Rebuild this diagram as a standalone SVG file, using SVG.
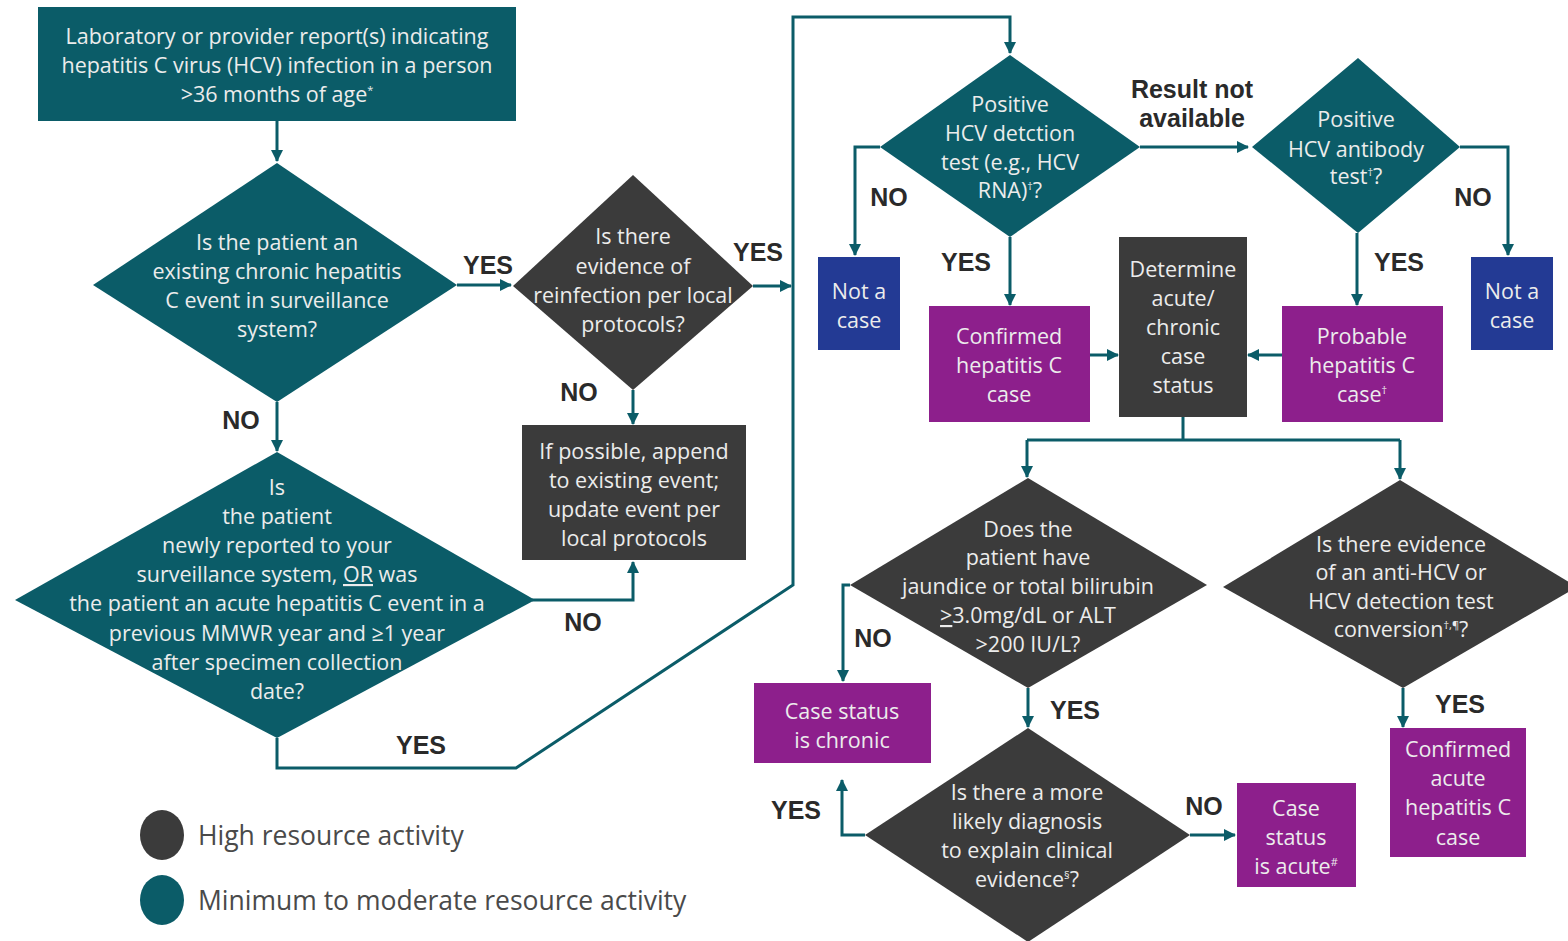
<svg xmlns="http://www.w3.org/2000/svg" width="1568" height="941" viewBox="0 0 1568 941">
<defs>
<style>
.teal{fill:#0b5c68}
.dark{fill:#3b3b3b}
.purple{fill:#8d1f8c}
.blue{fill:#233a94}
.t{font-family:"Open Sans","Liberation Sans",Arial,sans-serif;font-size:21.5px;fill:#ececec;text-anchor:middle}
.lbl{font-family:"Liberation Sans",Arial,sans-serif;font-size:25px;font-weight:bold;fill:#2a2a2a;text-anchor:middle}
.leg{font-family:"Open Sans","Liberation Sans",Arial,sans-serif;font-size:26.5px;fill:#4a4a4a}
.c{fill:none;stroke:#0b5c68;stroke-width:3}
.a{marker-end:url(#ah)}
.sup{font-size:11px}
</style>
<marker id="ah" markerWidth="12" markerHeight="12" refX="11" refY="6" orient="auto" markerUnits="userSpaceOnUse">
<path d="M0,0 L12,6 L0,12 z" fill="#0b5c68"/>
</marker>
</defs>
<rect width="1568" height="941" fill="#ffffff"/>

<g id="connectors">
<path class="c a" d="M277,121 V161"/>
<path class="c a" d="M457,285 H511"/>
<path class="c a" d="M277,402 V451"/>
<path class="c a" d="M753,286 H791"/>
<path class="c a" d="M633,390 V424"/>
<path class="c a" d="M532,600 H633 V562"/>
<path class="c a" d="M277,738 V768 H516 L793,585 V17 H1010 V53"/>
<path class="c a" d="M880,147 H855 V255"/>
<path class="c a" d="M1140,147 H1248"/>
<path class="c a" d="M1010,237 V305"/>
<path class="c a" d="M1460,147 H1508 V255"/>
<path class="c a" d="M1357,233 V305"/>
<path class="c a" d="M1090,355 H1118"/>
<path class="c a" d="M1282,355 H1248"/>
<path class="c" d="M1183,417 V440 M1027,440 H1400"/>
<path class="c a" d="M1027,440 V477"/>
<path class="c a" d="M1400,440 V479"/>
<path class="c a" d="M850,585 H843 V681"/>
<path class="c a" d="M1028,688 V727"/>
<path class="c a" d="M865,835 H842 V780"/>
<path class="c a" d="M1190,835 H1235"/>
<path class="c a" d="M1403,688 V727"/>
</g>

<g id="connector-labels">
<text class="lbl" x="488" y="274">YES</text>
<text class="lbl" x="241" y="429">NO</text>
<text class="lbl" x="758" y="261">YES</text>
<text class="lbl" x="579" y="401">NO</text>
<text class="lbl" x="583" y="631">NO</text>
<text class="lbl" x="421" y="754">YES</text>
<text class="lbl" x="1192" y="98">Result not</text>
<text class="lbl" x="1192" y="127">available</text>
<text class="lbl" x="889" y="206">NO</text>
<text class="lbl" x="966" y="271">YES</text>
<text class="lbl" x="1473" y="206">NO</text>
<text class="lbl" x="1399" y="271">YES</text>
<text class="lbl" x="873" y="647">NO</text>
<text class="lbl" x="1075" y="719">YES</text>
<text class="lbl" x="796" y="819">YES</text>
<text class="lbl" x="1204" y="815">NO</text>
<text class="lbl" x="1460" y="713">YES</text>
</g>

<g id="start">
<rect class="teal" x="38" y="7" width="478" height="114"/>
<text class="t" x="277" y="44">Laboratory or provider report(s) indicating</text>
<text class="t" x="277" y="73">hepatitis C virus (HCV) infection in a person</text>
<text class="t" x="277" y="102">&gt;36 months of age<tspan class="sup" dy="-8">*</tspan></text>
</g>

<g id="q-existing-chronic">
<polygon class="teal" points="277,163 457,285 277,402 93,285"/>
<text class="t" x="277" y="250">Is the patient an</text>
<text class="t" x="277" y="279">existing chronic hepatitis</text>
<text class="t" x="277" y="308">C event in surveillance</text>
<text class="t" x="277" y="337">system?</text>
</g>

<g id="q-reinfection">
<polygon class="dark" points="633,175 753,286 633,390 513,286"/>
<text class="t" x="633" y="244">Is there</text>
<text class="t" x="633" y="274">evidence of</text>
<text class="t" x="633" y="303">reinfection per local</text>
<text class="t" x="633" y="332">protocols?</text>
</g>

<g id="append-event">
<rect class="dark" x="522" y="425" width="224" height="135"/>
<text class="t" x="634" y="459">If possible, append</text>
<text class="t" x="634" y="488">to existing event;</text>
<text class="t" x="634" y="517">update event per</text>
<text class="t" x="634" y="546">local protocols</text>
</g>

<g id="q-newly-reported">
<polygon class="teal" points="277,452 535,600 277,738 15,600"/>
<text class="t" x="277" y="495">Is</text>
<text class="t" x="277" y="524">the patient</text>
<text class="t" x="277" y="553">newly reported to your</text>
<text class="t" x="277" y="582">surveillance system, <tspan text-decoration="underline">OR</tspan> was</text>
<text class="t" x="277" y="611">the patient an acute hepatitis C event in a</text>
<text class="t" x="277" y="641">previous MMWR year and ≥1 year</text>
<text class="t" x="277" y="670">after specimen collection</text>
<text class="t" x="277" y="699">date?</text>
</g>

<g id="q-detection-test">
<polygon class="teal" points="1010,55 1140,147 1010,237 880,147"/>
<text class="t" x="1010" y="112">Positive</text>
<text class="t" x="1010" y="141">HCV detction</text>
<text class="t" x="1010" y="170">test (e.g., HCV</text>
<text class="t" x="1010" y="198">RNA)<tspan class="sup" dy="-8">†</tspan><tspan dy="8">?</tspan></text>
</g>

<g id="not-a-case-1">
<rect class="blue" x="818" y="257" width="82" height="93"/>
<text class="t" x="859" y="299">Not a</text>
<text class="t" x="859" y="328">case</text>
</g>

<g id="q-antibody-test">
<polygon class="teal" points="1358,58 1460,147 1358,233 1252,147"/>
<text class="t" x="1356" y="127">Positive</text>
<text class="t" x="1356" y="157">HCV antibody</text>
<text class="t" x="1356" y="184">test<tspan class="sup" dy="-8">†</tspan><tspan dy="8">?</tspan></text>
</g>

<g id="not-a-case-2">
<rect class="blue" x="1471" y="257" width="82" height="93"/>
<text class="t" x="1512" y="299">Not a</text>
<text class="t" x="1512" y="328">case</text>
</g>

<g id="confirmed-case">
<rect class="purple" x="929" y="306" width="161" height="116"/>
<text class="t" x="1009" y="344">Confirmed</text>
<text class="t" x="1009" y="373">hepatitis C</text>
<text class="t" x="1009" y="402">case</text>
</g>

<g id="determine-status">
<rect class="dark" x="1119" y="237" width="128" height="180"/>
<text class="t" x="1183" y="277">Determine</text>
<text class="t" x="1183" y="306">acute/</text>
<text class="t" x="1183" y="335">chronic</text>
<text class="t" x="1183" y="364">case</text>
<text class="t" x="1183" y="393">status</text>
</g>

<g id="probable-case">
<rect class="purple" x="1282" y="306" width="161" height="116"/>
<text class="t" x="1362" y="344">Probable</text>
<text class="t" x="1362" y="373">hepatitis C</text>
<text class="t" x="1362" y="402">case<tspan class="sup" dy="-8">†</tspan></text>
</g>

<g id="q-jaundice">
<polygon class="dark" points="1028,478 1207,585 1028,688 850,585"/>
<text class="t" x="1028" y="537">Does the</text>
<text class="t" x="1028" y="565">patient have</text>
<text class="t" x="1028" y="594">jaundice or total bilirubin</text>
<text class="t" x="1028" y="623"><tspan text-decoration="underline">&gt;</tspan>3.0mg/dL or ALT</text>
<text class="t" x="1028" y="652">&gt;200 IU/L?</text>
</g>

<g id="chronic">
<rect class="purple" x="754" y="683" width="177" height="80"/>
<text class="t" x="842" y="719">Case status</text>
<text class="t" x="842" y="748">is chronic</text>
</g>

<g id="q-conversion">
<polygon class="dark" points="1400,480 1577,587 1403,688 1223,587"/>
<text class="t" x="1401" y="552">Is there evidence</text>
<text class="t" x="1401" y="580">of an anti-HCV or</text>
<text class="t" x="1401" y="609">HCV detection test</text>
<text class="t" x="1401" y="637">conversion<tspan class="sup" dy="-8">†,¶</tspan><tspan dy="8">?</tspan></text>
</g>

<g id="confirmed-acute">
<rect class="purple" x="1390" y="728" width="136" height="129"/>
<text class="t" x="1458" y="757">Confirmed</text>
<text class="t" x="1458" y="786">acute</text>
<text class="t" x="1458" y="815">hepatitis C</text>
<text class="t" x="1458" y="845">case</text>
</g>

<g id="q-other-diagnosis">
<polygon class="dark" points="1028,728 1190,835 1028,942 865,835"/>
<text class="t" x="1027" y="800">Is there a more</text>
<text class="t" x="1027" y="829">likely diagnosis</text>
<text class="t" x="1027" y="858">to explain clinical</text>
<text class="t" x="1027" y="887">evidence<tspan class="sup" dy="-8">§</tspan><tspan dy="8">?</tspan></text>
</g>

<g id="acute">
<rect class="purple" x="1237" y="783" width="119" height="104"/>
<text class="t" x="1296" y="816">Case</text>
<text class="t" x="1296" y="845">status</text>
<text class="t" x="1296" y="874">is acute<tspan class="sup" dy="-8">#</tspan></text>
</g>

<g id="legend">
<ellipse class="dark" cx="162" cy="835" rx="22" ry="25"/>
<text class="leg" x="198" y="845">High resource activity</text>
<ellipse class="teal" cx="162" cy="900" rx="22" ry="25"/>
<text class="leg" x="198" y="910">Minimum to moderate resource activity</text>
</g>
</svg>
